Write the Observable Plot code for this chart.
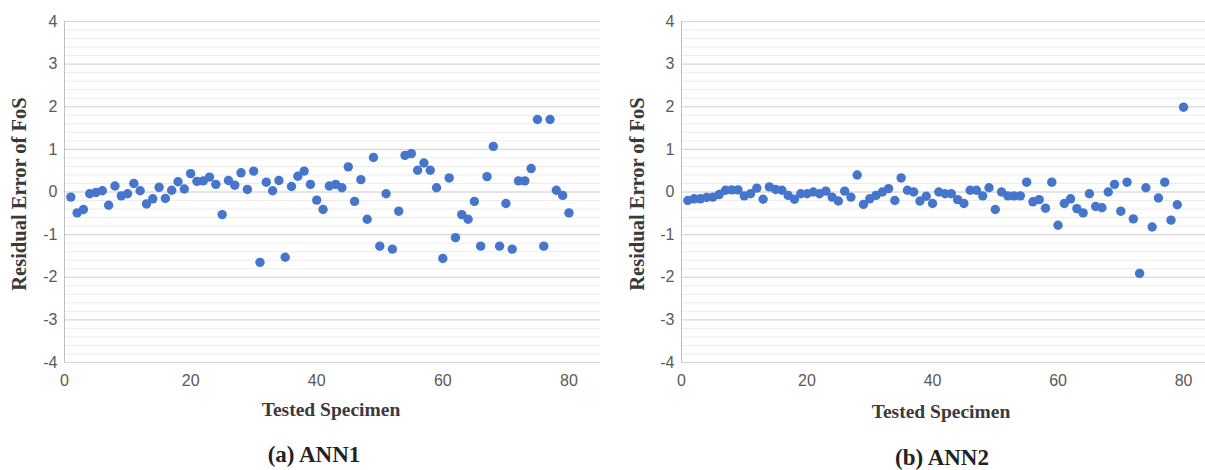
<!DOCTYPE html>
<html>
<head>
<meta charset="utf-8">
<script src="https://cdn.jsdelivr.net/npm/d3@7"></script>
<script src="https://cdn.jsdelivr.net/npm/@observablehq/plot@0.6"></script>
<style>
  html, body { margin: 0; padding: 0; background: #fff; }
  #root { position: relative; width: 1205px; height: 470px; overflow: hidden; background: #fff; }
  .panel { position: absolute; top: 0; }
  .lbl { position: absolute; font-family: "Liberation Serif", "Times New Roman", serif; font-weight: bold; color: #3a3a3a; white-space: nowrap; }
  .ylab { transform: translate(-50%, -50%) rotate(-90deg); font-size: 20.5px; }
  .xlab { transform: translate(-50%, -50%); font-size: 19.5px; }
  .cap { transform: translate(-50%, -50%); font-size: 23px; color: #222; }
</style>
</head>
<body>
<div id="root"></div>
<script>
// Specimen numbers 1..80
const specimens = d3.range(1, 81);

// (a) ANN1 residual error of FoS
const ann1 = [
  -0.12, -0.49, -0.41, -0.04, -0.01, 0.03, -0.31, 0.14, -0.09, -0.04,
   0.20,  0.03, -0.28, -0.16,  0.11, -0.15, 0.04, 0.24,  0.07,  0.43,
   0.25,  0.26,  0.35,  0.18, -0.53,  0.27, 0.16, 0.45,  0.06,  0.49,
  -1.65,  0.23,  0.03,  0.27, -1.53,  0.13, 0.37, 0.49,  0.18, -0.19,
  -0.41,  0.14,  0.18,  0.10,  0.59, -0.22, 0.29, -0.64, 0.81, -1.27,
  -0.04, -1.34, -0.45,  0.86,  0.90,  0.51, 0.68, 0.51,  0.10, -1.56,
   0.33, -1.07, -0.53, -0.64, -0.22, -1.27, 0.36, 1.07, -1.27, -0.27,
  -1.34,  0.26,  0.26,  0.55,  1.70, -1.27, 1.70, 0.04, -0.08, -0.49
];

// (b) ANN2 residual error of FoS
const ann2 = [
  -0.20, -0.16, -0.16, -0.13, -0.12, -0.06, 0.04, 0.05, 0.05, -0.09,
  -0.04,  0.09, -0.17,  0.12,  0.06,  0.04, -0.08, -0.17, -0.04, -0.04,
   0.00, -0.04,  0.02, -0.12, -0.21,  0.02, -0.12, 0.40, -0.29, -0.16,
  -0.08,  0.00,  0.08, -0.20,  0.33,  0.04, 0.00, -0.21, -0.10, -0.27,
   0.00, -0.04, -0.04, -0.18, -0.27,  0.04, 0.04, -0.09, 0.10, -0.41,
   0.00, -0.09, -0.09, -0.09,  0.23, -0.23, -0.18, -0.38, 0.23, -0.78,
  -0.27, -0.16, -0.39, -0.49, -0.04, -0.34, -0.37, 0.00, 0.18, -0.45,
   0.23, -0.63, -1.91,  0.10, -0.82, -0.14, 0.23, -0.66, -0.30, 1.99
];

const yTicks = [-4, -3, -2, -1, 0, 1, 2, 3, 4];
const xTicks = [0, 20, 40, 60, 80];
const yLabel = "Residual Error of FoS";
const xLabel = "Tested Specimen";
const captions = ["(a) ANN1", "(b) ANN2"];

function panel(values, {left, width, xMax}) {
  const data = specimens.map((s, i) => ({s, v: values[i]}));
  const minor = d3.ticks(-4, 4, 40);
  const svg = Plot.plot({
    width, height: 400,
    marginLeft: 64, marginRight: 0, marginTop: 21, marginBottom: 38,
    style: {fontFamily: "'Liberation Sans', Arial, sans-serif", fontSize: "16px", color: "#595959", background: "transparent"},
    x: {domain: [0, xMax]},
    y: {domain: [-4, 4]},
    marks: [
      Plot.gridY(minor, {stroke: "#ececec", strokeOpacity: 1}),
      Plot.gridY(yTicks, {stroke: "#d4d4d4", strokeOpacity: 1}),
      Plot.ruleX([0], {stroke: "#bfbfbf", strokeWidth: 1}),
      Plot.dot(data, {x: "s", y: "v", r: 4.7, fill: "#4676CC", stroke: null}),
      Plot.axisY({ticks: yTicks, tickSize: 0, tickPadding: 7, fontSize: 16, tickFormat: d => String(d), label: null}),
      Plot.axisX({ticks: xTicks, tickSize: 0, tickPadding: 12, fontSize: 16, tickFormat: d => String(d), label: null})
    ]
  });
  svg.classList.add("panel");
  svg.style.left = left + "px";
  return svg;
}

const root = document.getElementById("root");
root.appendChild(panel(ann1, {left: 0, width: 600, xMax: 85}));
root.appendChild(panel(ann2, {left: 617, width: 588, xMax: 83.5}));

function addLabel(text, cls, x, y) {
  const d = document.createElement("div");
  d.className = "lbl " + cls;
  d.textContent = text;
  d.style.left = x + "px";
  d.style.top = y + "px";
  root.appendChild(d);
}
addLabel(yLabel, "ylab", 19, 194);
addLabel(yLabel, "ylab", 637, 194);
addLabel(xLabel, "xlab", 331, 410);
addLabel(xLabel, "xlab", 941, 412);
addLabel(captions[0], "cap", 314, 455);
addLabel(captions[1], "cap", 942, 458);
</script>
</body>
</html>
